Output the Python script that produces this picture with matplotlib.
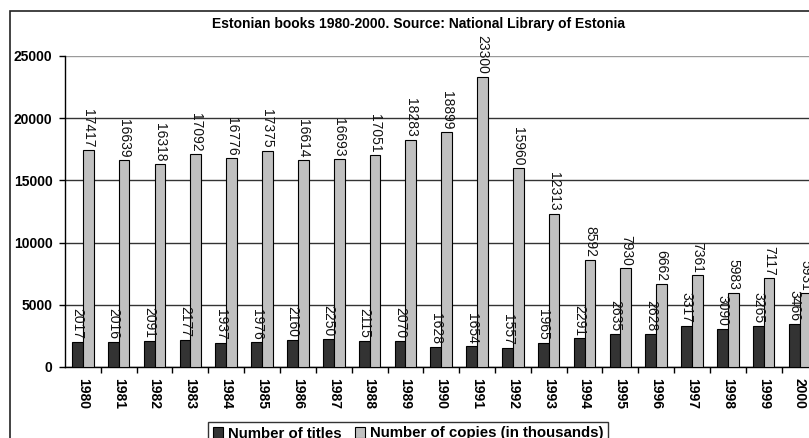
import numpy as np
import matplotlib
matplotlib.use("Agg")
import matplotlib.pyplot as plt
from matplotlib.patches import Rectangle

plt.rcParams['font.family'] = ['Liberation Sans', 'DejaVu Sans']

# data
years = [str(y) for y in range(1980, 2001)]
titles = [2017, 2016, 2091, 2177, 1937, 1976, 2160, 2250, 2115, 2070, 1628,
          1654, 1557, 1965, 2291, 2635, 2628, 3317, 3090, 3265, 3466]
copies = [17417, 16639, 16318, 17092, 16776, 17375, 16614, 16693, 17051, 18283, 18899,
          23300, 15960, 12313, 8592, 7930, 6662, 7361, 5983, 7117, 5931]
yticks = [0, 5000, 10000, 15000, 20000, 25000]

W, H = 809, 438
fig = plt.figure(figsize=(W / 100, H / 100), dpi=100)

# outer chart frame (runs off the right and bottom of the picture)
fig.patches.append(Rectangle((10 / W, -0.2), 1.2, 1.2 - 11 / H,
                             transform=fig.transFigure, fill=False,
                             edgecolor='#222222', linewidth=1.2))

ax = fig.add_axes([65 / W, (H - 367) / H, 752.5 / W, 311 / H])

x = np.arange(len(years))
w = 0.3
b1 = ax.bar(x - w / 2, titles, w, color='#333333', edgecolor='black', linewidth=0.8,
            label='Number of titles', zorder=3)
b2 = ax.bar(x + w / 2, copies, w, color='#c0c0c0', edgecolor='black', linewidth=0.8,
            label='Number of copies (in thousands)', zorder=3)

ax.bar_label(b1, labels=[str(v) for v in titles], rotation=270, padding=2,
             fontsize=10, color='#111111', zorder=4)
ax.bar_label(b2, labels=[str(v) for v in copies], rotation=270, padding=2,
             fontsize=10, color='#111111', zorder=4)

ax.set_xlim(-0.5, len(years) - 0.5)
ax.set_ylim(0, 25000)
ax.set_yticks(yticks)
ax.set_yticklabels([str(t) for t in yticks], fontsize=10, fontweight='bold')
ax.tick_params(axis='y', direction='out', length=4, width=1, pad=5)

ax.set_xticks(x)
ax.set_xticklabels(years, rotation=270, fontsize=10, fontweight='bold')
ax.set_xticks(x[:-1] + 0.5, minor=True)
ax.tick_params(axis='x', which='major', length=0, pad=8)
ax.tick_params(axis='x', which='minor', direction='out', length=4, width=1)

ax.yaxis.grid(True, color='#333333', linewidth=1, zorder=1)
ax.set_axisbelow(True)
ax.yaxis.get_gridlines()[-1].set_color('#9a9a9a')

for s in ['top', 'right']:
    ax.spines[s].set_visible(False)
ax.spines['left'].set_linewidth(1)
ax.spines['bottom'].set_linewidth(1)

fig.text(418 / W, 1 - 24 / H, 'Estonian books 1980-2000. Source: National Library of Estonia',
         ha='center', va='center', fontsize=10, fontweight='bold')

leg = fig.legend(handles=[b1, b2], loc='upper left', bbox_to_anchor=(208 / W, 1 - 422 / H),
                 ncol=2, frameon=True, fancybox=False, edgecolor='black',
                 prop={'weight': 'bold', 'size': 10.8}, handlelength=0.7, handleheight=0.7,
                 handletextpad=0.3, columnspacing=0.9, borderpad=0.3, borderaxespad=0)
leg.get_frame().set_linewidth(1)

fig.savefig('out.png', dpi=100)
